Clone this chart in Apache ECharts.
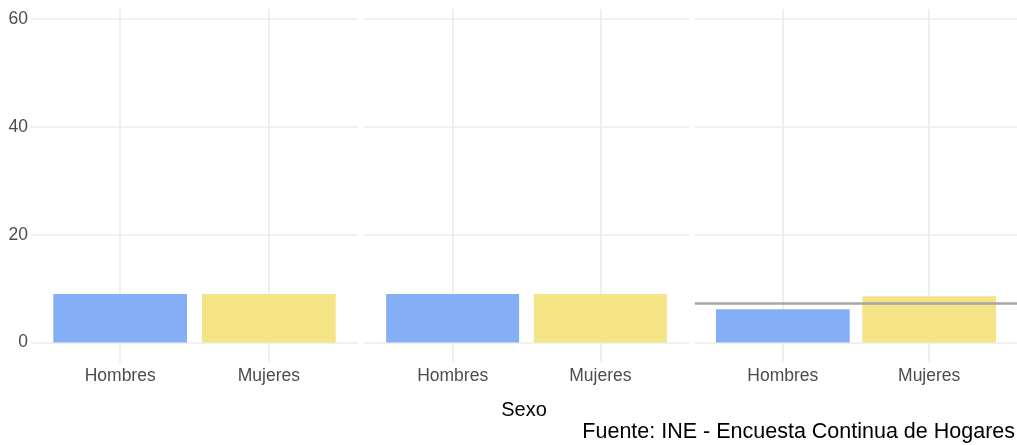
<!DOCTYPE html>
<html>
<head>
<meta charset="utf-8">
<script src="https://cdn.jsdelivr.net/npm/echarts@6/dist/echarts.min.js"></script>
<style>html,body{margin:0;padding:0;background:#fff}#c{width:1017px;height:445px}</style>
</head>
<body>
<div id="c"></div>
<script>
const categories = ['Hombres', 'Mujeres'];
const hombres = [9.0, 9.0, 6.2];
const mujeres = [9.0, 9.0, 8.6];
const refLine = [null, null, 7.3];
const yTicks = [0, 20, 40, 60];
const xTitle = 'Sexo';
const caption = 'Fuente: INE - Encuesta Continua de Hogares';

const colors = ['#84aff7', '#f4e485'];
const font = 'Liberation Sans, Arial, sans-serif';
const panelLeft = [31, 364, 695];
const panelWidth = [327, 325, 327];
const gridTop = 9, gridHeight = 353;
const catPos = categories.map((c, i) => i + 1);

const grids = [], xAxes = [], yAxes = [], series = [];
for (let p = 0; p < 3; p++) {
  grids.push({left: panelLeft[p], top: gridTop, width: panelWidth[p], height: gridHeight, containLabel: false});
  xAxes.push({
    type: 'value', gridIndex: p, min: 0.4, max: 2.6,
    axisLine: {show: false, onZero: false},
    axisTick: {show: false, customValues: catPos},
    axisLabel: {customValues: catPos, formatter: v => categories[Math.round(v) - 1] || '', color: '#4d4d4d', fontSize: 17.5, fontFamily: font, margin: 5},
    splitLine: {show: true, lineStyle: {color: '#ebebeb', width: 1.6}}
  });
  yAxes.push({
    type: 'value', gridIndex: p, min: -3.6, max: 61.85,
    axisLine: {show: false},
    axisTick: {show: false, customValues: yTicks},
    axisLabel: {show: p === 0, customValues: yTicks, color: '#4d4d4d', fontSize: 17.5, fontFamily: font, margin: 3},
    splitLine: {show: true, lineStyle: {color: '#ebebeb', width: 1.6}}
  });
  const bw = 0.9 * panelWidth[p] / 2.2;
  const s = {
    type: 'bar', xAxisIndex: p, yAxisIndex: p, barWidth: bw,
    data: [
      {value: [catPos[0], hombres[p]], itemStyle: {color: colors[0]}},
      {value: [catPos[1], mujeres[p]], itemStyle: {color: colors[1]}}
    ],
    silent: true
  };
  if (refLine[p] != null) {
    s.markLine = {symbol: 'none', silent: true, label: {show: false},
      lineStyle: {color: '#a6a6a6', width: 2.5, type: 'solid'},
      data: [{yAxis: refLine[p]}]};
  }
  series.push(s);
}

const chart = echarts.init(document.getElementById('c'));
chart.setOption({
  animation: false,
  backgroundColor: '#fff',
  grid: grids, xAxis: xAxes, yAxis: yAxes, series: series,
  graphic: [
    {type: 'text', x: 524, y: 410, style: {text: xTitle, textAlign: 'center', textVerticalAlign: 'middle', fill: '#000', font: '20px ' + font}},
    {type: 'text', x: 1015, y: 432, style: {text: caption, textAlign: 'right', textVerticalAlign: 'middle', fill: '#000', font: '21.5px ' + font}}
  ]
});
</script>
</body>
</html>
